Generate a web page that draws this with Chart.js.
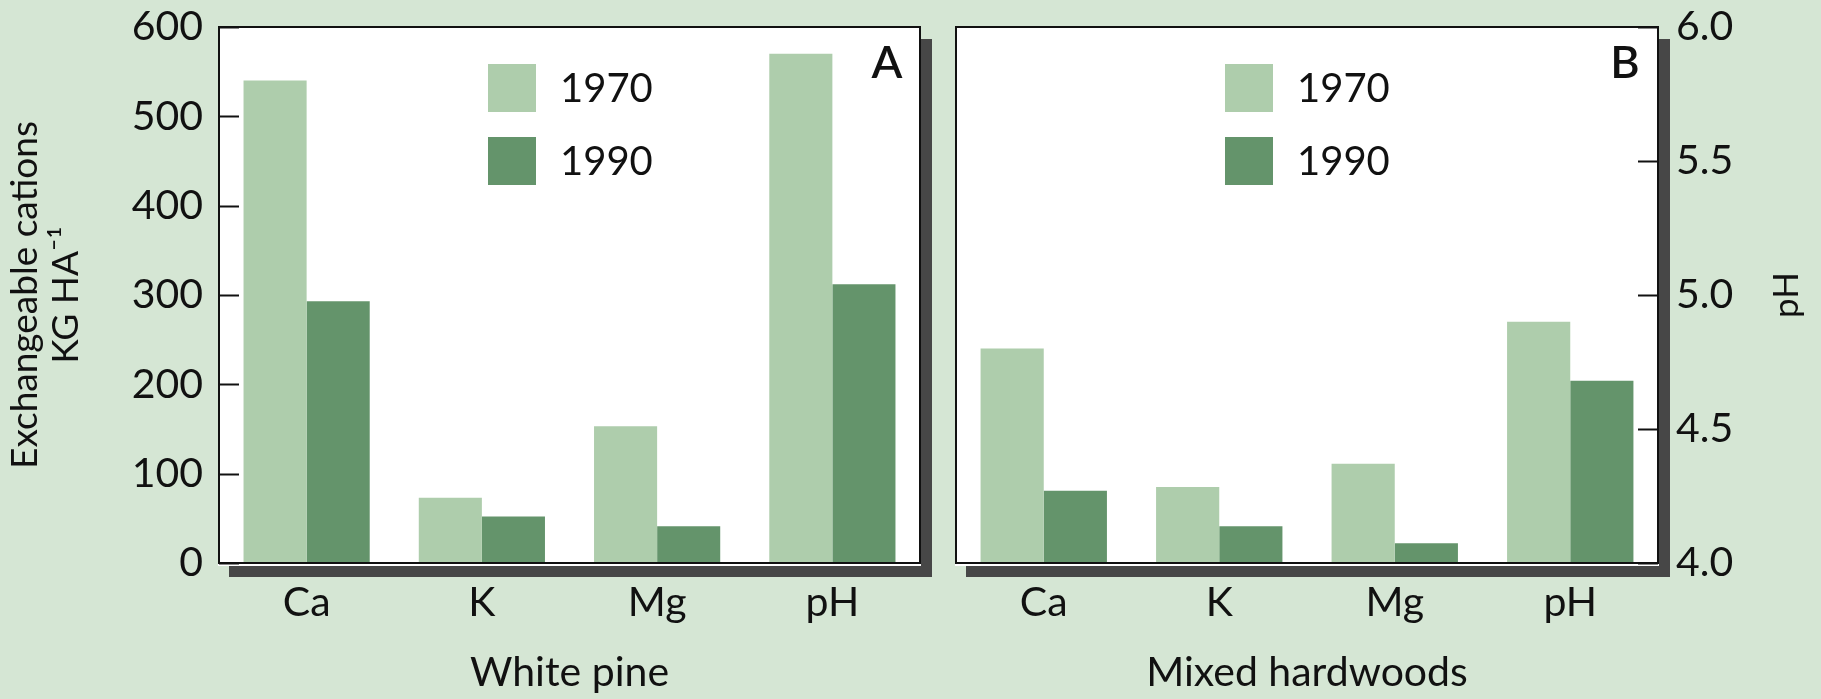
<!DOCTYPE html>
<html><head><meta charset="utf-8">
<script src="https://cdn.jsdelivr.net/npm/chart.js@4.4.1/dist/chart.umd.min.js"></script>
<style>
html,body{margin:0;padding:0;background:#d5e6d4;width:1821px;height:699px;overflow:hidden}
#ca{position:absolute;left:0;top:0}
#cb{position:absolute;left:940px;top:0}
</style></head><body>
<canvas id="ca" width="940" height="699"></canvas>
<canvas id="cb" width="881" height="699"></canvas>
<script>
// ---- data ----
const categories = ['Ca', 'K', 'Mg', 'pH'];
const seriesNames = ['1970', '1990'];
const pine1970 = [540, 73, 153];      // kg/ha: Ca, K, Mg
const pine1990 = [293, 52, 41];
const pinePH = [5.90, 5.04];          // 1970, 1990
const hard1970 = [240, 85, 111];
const hard1990 = [81, 41, 22];
const hardPH = [4.90, 4.68];
const cationTicks = [0, 100, 200, 300, 400, 500, 600];
const phTicks = [4.0, 4.5, 5.0, 5.5, 6.0];
const panelTitles = ['White pine', 'Mixed hardwoods'];
const panelLetters = ['A', 'B'];
const yTitle = ['Exchangeable cations', 'KG HA\u207B\u00B9'];
const phTitle = 'pH';

// ---- styles ----
const LIGHT = '#aecdac';
const DARK = '#64946b';
const SHADOW = '#474747';
const INK = '#111111';
const FONT = 'Lato, "Open Sans", sans-serif';
Chart.defaults.font.family = FONT;
Chart.defaults.color = INK;

function buildData(c70, c90, ph) {
  const n = categories.length;
  const pad = (arr) => categories.map((_, i) => (i < arr.length ? arr[i] : null));
  const phOnly = (v) => categories.map((_, i) => (i === n - 1 ? v : null));
  return {
    labels: categories,
    datasets: [
      { label: seriesNames[0], data: pad(c70), backgroundColor: LIGHT, yAxisID: 'y' },
      { label: seriesNames[1], data: pad(c90), backgroundColor: DARK, yAxisID: 'y' },
      { label: seriesNames[0], data: phOnly(ph[0]), backgroundColor: LIGHT, yAxisID: 'ph' },
      { label: seriesNames[1], data: phOnly(ph[1]), backgroundColor: DARK, yAxisID: 'ph' }
    ]
  };
}

function noPad(s) { s.paddingTop = 0; s.paddingBottom = 0; s.paddingLeft = 0; s.paddingRight = 0; }

function framePlugin(letter, tickAxis, tickSide, extra) {
  return {
    id: 'frame' + letter,
    beforeDraw(chart) {
      const { ctx, chartArea: a } = chart;
      ctx.save();
      ctx.fillStyle = SHADOW;
      ctx.fillRect(a.left + 10, a.top + 12, a.right - a.left + 2, a.bottom - a.top + 2);
      ctx.fillStyle = '#ffffff';
      ctx.fillRect(a.left - 1, a.top - 1, a.right - a.left + 2, a.bottom - a.top + 4);
      ctx.restore();
    },
    afterDatasetsDraw(chart) {
      const { ctx, chartArea: a } = chart;
      ctx.save();
      ctx.strokeStyle = INK;
      ctx.lineWidth = 2;
      ctx.strokeRect(a.left, a.top, a.right - a.left, a.bottom - a.top);
      const sc = chart.scales[tickAxis];
      sc.ticks.forEach((t) => {
        const y = Math.round(sc.getPixelForValue(t.value)) + 0.5;
        ctx.beginPath();
        if (tickSide === 'left') { ctx.moveTo(a.left, y); ctx.lineTo(a.left + 20, y); }
        else { ctx.moveTo(a.right, y); ctx.lineTo(a.right - 20, y); }
        ctx.stroke();
      });
      const ds = chart.data.datasets;
      ctx.font = '40px ' + FONT;
      ctx.textBaseline = 'middle';
      ctx.textAlign = 'left';
      [0, 1].forEach((i) => {
        const y = a.top + 37 + i * 73;
        ctx.fillStyle = ds[i].backgroundColor;
        ctx.fillRect(a.left + 269, y, 48, 48);
        ctx.fillStyle = INK;
        ctx.fillText(ds[i].label, a.left + 341, y + 25);
      });
      ctx.font = '600 45px ' + FONT;
      ctx.textAlign = 'center';
      ctx.fillText(letter, a.right - 33, a.top + 36);
      if (extra) extra(chart);
      ctx.restore();
    }
  };
}

const xAxis = (title) => ({
  type: 'category',
  offset: true,
  grid: { display: false, drawTicks: false },
  border: { display: false },
  ticks: { font: { size: 41 }, color: INK, padding: 15 },
  title: { display: true, text: title, font: { size: 41 }, color: INK, padding: { top: 0, bottom: 2 } },
  afterFit(s) { s.height = 136; noPad(s); }
});

const barOpts = { categoryPercentage: 0.72, barPercentage: 1.0, skipNull: true };

// Panel A
new Chart(document.getElementById('ca'), {
  type: 'bar',
  data: buildData(pine1970, pine1990, pinePH),
  options: {
    responsive: false, animation: false, devicePixelRatio: 1,
    datasets: { bar: barOpts },
    layout: { padding: { left: 0, top: 27, right: 20, bottom: 0 } },
    plugins: { legend: { display: false }, tooltip: { enabled: false } },
    scales: {
      x: xAxis(panelTitles[0]),
      y: {
        type: 'linear', position: 'left',
        min: cationTicks[0], max: cationTicks[cationTicks.length - 1],
        afterBuildTicks(s) { s.ticks = cationTicks.map((v) => ({ value: v })); },
        grid: { display: false, drawTicks: false },
        border: { display: false },
        ticks: { font: { size: 41 }, color: INK, padding: 16 },
        title: { display: true, text: yTitle, font: { size: 37, lineHeight: 1.1 }, color: INK, padding: { top: 5 } },
        afterFit(s) { s.width = 219; noPad(s); }
      },
      ph: {
        type: 'linear', position: 'right', display: false,
        min: phTicks[0], max: phTicks[phTicks.length - 1],
        afterFit(s) { noPad(s); }
      }
    }
  },
  plugins: [framePlugin(panelLetters[0], 'y', 'left')]
});

// Panel B
new Chart(document.getElementById('cb'), {
  type: 'bar',
  data: buildData(hard1970, hard1990, hardPH),
  options: {
    responsive: false, animation: false, devicePixelRatio: 1,
    datasets: { bar: barOpts },
    layout: { padding: { left: 16, top: 27, right: 0, bottom: 0 } },
    plugins: { legend: { display: false }, tooltip: { enabled: false } },
    scales: {
      x: xAxis(panelTitles[1]),
      y: {
        type: 'linear', position: 'left', display: false,
        min: cationTicks[0], max: cationTicks[cationTicks.length - 1],
        afterFit(s) { noPad(s); }
      },
      ph: {
        type: 'linear', position: 'right',
        min: phTicks[0], max: phTicks[phTicks.length - 1],
        afterBuildTicks(s) { s.ticks = phTicks.map((v) => ({ value: v })); },
        grid: { display: false, drawTicks: false },
        border: { display: false },
        ticks: { font: { size: 41 }, color: INK, padding: 18, callback: (v) => Number(v).toFixed(1) },
        afterFit(s) { s.width = 163; noPad(s); }
      }
    }
  },
  plugins: [framePlugin(panelLetters[1], 'ph', 'right', (chart) => {
    const { ctx, chartArea: a } = chart;
    ctx.save();
    ctx.translate(847, (a.top + a.bottom) / 2);
    ctx.rotate(-Math.PI / 2);
    ctx.font = '35px ' + FONT;
    ctx.textAlign = 'center';
    ctx.textBaseline = 'middle';
    ctx.fillStyle = INK;
    ctx.fillText(phTitle, 0, 0);
    ctx.restore();
  })]
});
</script>
</body></html>
